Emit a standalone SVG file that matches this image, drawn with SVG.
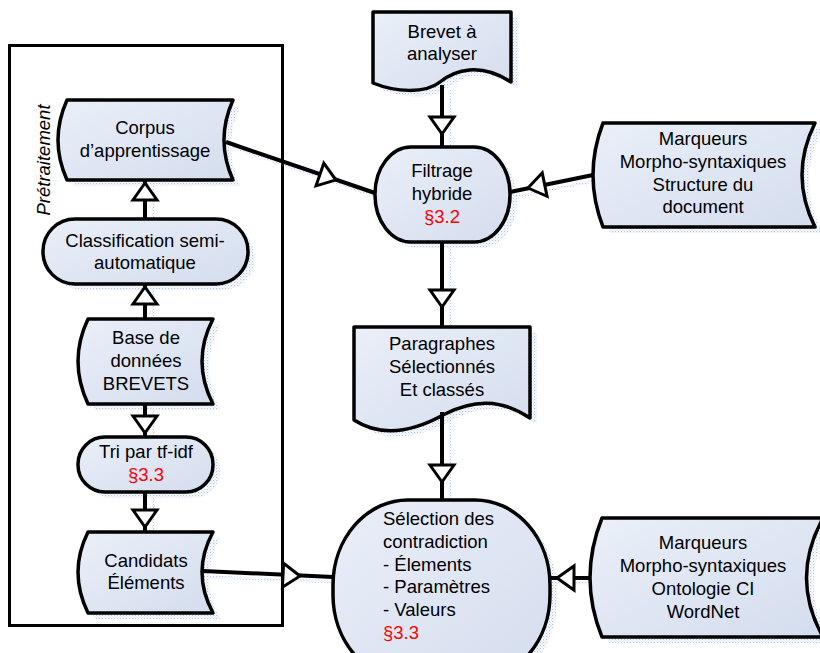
<svg xmlns="http://www.w3.org/2000/svg" xmlns:xlink="http://www.w3.org/1999/xlink" width="820" height="653" viewBox="0 0 820 653">
<defs>
<linearGradient id="grad" x1="0" y1="0" x2="1" y2="1">
<stop offset="0" stop-color="#eaeff8"/>
<stop offset="1" stop-color="#d4ddee"/>
</linearGradient>
<pattern id="dots" width="3" height="3" patternUnits="userSpaceOnUse">
<rect x="0" y="0" width="1.2" height="1.2" fill="#6d8fcf"/>
<rect x="1.5" y="1.5" width="1.2" height="1.2" fill="#a8bde3"/>
</pattern>
<path id="ah" d="M0,0 L-17,-12 L-17,12 Z"/>
<style>
.shape{fill:url(#grad);stroke:#000;stroke-width:3.5;stroke-linejoin:round}
.sh{fill:url(#dots);opacity:0.55}
.shl{stroke:url(#dots);stroke-width:3;fill:none;opacity:0.5}
.t{font-family:"Liberation Sans",Arial,sans-serif;font-size:18.5px;text-anchor:middle;fill:#000}
.tl{text-anchor:start}
.red{fill:#ff0000}
.conn{stroke:#000;stroke-width:4;fill:none}
.ahd{fill:#fff;stroke:#000;stroke-width:3;stroke-linejoin:miter}
.frame{fill:none;stroke:#000;stroke-width:3}
</style>
</defs>
<rect x="0" y="0" width="820" height="653" fill="#fff"/>

<g id="pretraitement">
<rect class="frame" x="9.5" y="45.5" width="273" height="580"/>
<text class="t" style="font-style:italic" transform="translate(50,160) rotate(-90)">Prétraitement</text>
</g>

<g id="connectors-shadow">
<path class="shl" d="M232,147 L381,198 M598,180 L516,197 M209,577 L339,582 M595,583 L556,583 M450,90 V152 M450,247 V332 M450,418 V505 M153,224 V185 M153,324 V289 M153,409 V442 M153,497 V537"/>
</g>

<g id="corpus">
<path class="sh" d="M74,106 L240,106 Q222,146 240,186 L74,186 Q56,146 74,106 Z"/>
<path class="shape" d="M67,100 L233,100 Q215,140 233,180 L67,180 Q49,140 67,100 Z"/>
<text class="t" x="145" y="134">Corpus</text>
<text class="t" x="145" y="157">d’apprentissage</text>
</g>

<g id="classification">
<rect class="sh" x="50" y="225" width="205" height="65" rx="32"/>
<rect class="shape" x="43" y="219" width="205" height="65" rx="32"/>
<text class="t" x="145" y="247">Classification semi-</text>
<text class="t" x="145" y="269">automatique</text>
</g>

<g id="base">
<path class="sh" d="M95,325 L220,325 Q198,367 220,410 L95,410 Q75,367 95,325 Z"/>
<path class="shape" d="M88,319 L213,319 Q191,361 213,404 L88,404 Q68,361 88,319 Z"/>
<text class="t" x="146" y="344">Base de</text>
<text class="t" x="146" y="367">données</text>
<text class="t" x="146" y="390">BREVETS</text>
</g>

<g id="tri">
<rect class="sh" x="85" y="443" width="135" height="55" rx="27"/>
<rect class="shape" x="78" y="437" width="135" height="55" rx="27"/>
<text class="t" x="146" y="458">Tri par tf-idf</text>
<text class="t red" x="146" y="481">§3.3</text>
</g>

<g id="candidats">
<path class="sh" d="M95,538 L220,538 Q198,578 220,619 L95,619 Q75,578 95,538 Z"/>
<path class="shape" d="M88,532 L213,532 Q191,572 213,613 L88,613 Q68,572 88,532 Z"/>
<text class="t" x="146" y="567">Candidats</text>
<text class="t" x="146" y="589">Éléments</text>
</g>

<g id="brevet">
<path class="sh" d="M380,18 H518 V88 C487,68 462,76 447,88 C432,100 402,98 380,89 Z"/>
<path class="shape" d="M373,12 H511 V82 C480,62 455,70 440,82 C425,94 395,92 373,83 Z"/>
<text class="t" x="442" y="38">Brevet à</text>
<text class="t" x="442" y="60">analyser</text>
</g>

<g id="filtrage">
<rect class="sh" x="382" y="153" width="135" height="95" rx="36" ry="47"/>
<rect class="shape" x="375" y="147" width="135" height="95" rx="36" ry="47"/>
<text class="t" x="442" y="177">Filtrage</text>
<text class="t" x="442" y="200">hybride</text>
<text class="t red" x="442" y="223">§3.2</text>
</g>

<g id="marqueurs1">
<path class="sh" d="M610,129 L822,129 Q796,181 822,233 L610,233 Q590,181 610,129 Z"/>
<path class="shape" d="M603,123 L815,123 Q789,175 815,227 L603,227 Q583,175 603,123 Z"/>
<text class="t" x="703" y="145">Marqueurs</text>
<text class="t" x="703" y="168">Morpho-syntaxiques</text>
<text class="t" x="703" y="191">Structure du</text>
<text class="t" x="703" y="213">document</text>
</g>

<g id="paragraphes">
<path class="sh" d="M361,333 H537 V424 C507,404 480,406 452,420 C427,434 392,446 361,426 Z"/>
<path class="shape" d="M354,327 H530 V418 C500,398 473,400 445,414 C420,428 385,440 354,420 Z"/>
<text class="t" x="442" y="350">Paragraphes</text>
<text class="t" x="442" y="373">Sélectionnés</text>
<text class="t" x="442" y="396">Et classés</text>
</g>

<g id="selection">
<rect class="sh" x="340" y="506" width="217" height="180" rx="75" ry="85"/>
<rect class="shape" x="333" y="500" width="217" height="180" rx="75" ry="85"/>
<text class="t tl" x="383" y="525">Sélection des</text>
<text class="t tl" x="383" y="548">contradiction</text>
<text class="t tl" x="383" y="571">- Élements</text>
<text class="t tl" x="383" y="593">- Paramètres</text>
<text class="t tl" x="383" y="616">- Valeurs</text>
<text class="t tl red" x="383" y="639">§3.3</text>
</g>

<g id="marqueurs2">
<path class="sh" d="M609,524 L830,524 Q797,584 830,643 L609,643 Q585,584 609,524 Z"/>
<path class="shape" d="M602,518 L823,518 Q790,578 823,637 L602,637 Q578,578 602,518 Z"/>
<text class="t" x="703" y="549">Marqueurs</text>
<text class="t" x="703" y="572">Morpho-syntaxiques</text>
<text class="t" x="703" y="595">Ontologie CI</text>
<text class="t" x="703" y="618">WordNet</text>
</g>

<g id="connectors">
<path class="conn" d="M226,142 L375,193"/>
<path class="conn" d="M593,175 L510,192"/>
<path class="conn" d="M203,571 L333,577"/>
<path class="conn" d="M590,578 L550,578"/>
<path class="conn" d="M442,85 V147"/>
<path class="conn" d="M442,242 V327"/>
<path class="conn" d="M442,412 V500"/>
<path class="conn" d="M145,219 V180"/>
<path class="conn" d="M145,319 V284"/>
<path class="conn" d="M145,404 V437"/>
<path class="conn" d="M145,492 V532"/>
<use xlink:href="#ah" class="ahd" transform="translate(336,180) rotate(18.9)"/>
<use xlink:href="#ah" class="ahd" transform="translate(528,188) rotate(168.4)"/>
<use xlink:href="#ah" class="ahd" transform="translate(300,576) rotate(2.7)"/>
<use xlink:href="#ah" class="ahd" transform="translate(557,578) rotate(180)"/>
<use xlink:href="#ah" class="ahd" transform="translate(442,134) rotate(90)"/>
<use xlink:href="#ah" class="ahd" transform="translate(442,307) rotate(90)"/>
<use xlink:href="#ah" class="ahd" transform="translate(442,482) rotate(90)"/>
<use xlink:href="#ah" class="ahd" transform="translate(145,183) rotate(-90)"/>
<use xlink:href="#ah" class="ahd" transform="translate(145,287) rotate(-90)"/>
<use xlink:href="#ah" class="ahd" transform="translate(145,433) rotate(90)"/>
<use xlink:href="#ah" class="ahd" transform="translate(145,527) rotate(90)"/>
</g>
</svg>
